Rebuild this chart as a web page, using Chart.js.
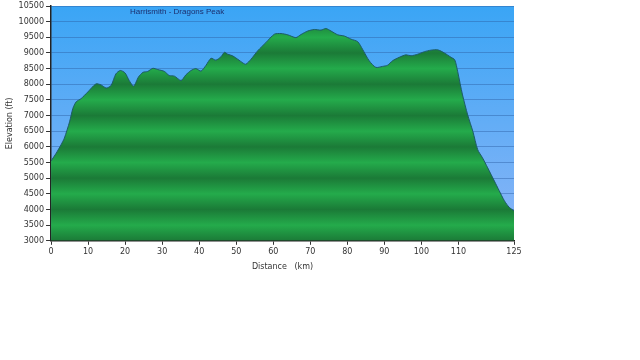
<!DOCTYPE html>
<html>
<head>
<meta charset="utf-8">
<script src="https://cdn.jsdelivr.net/npm/chart.js@4.4.1/dist/chart.umd.min.js"></script>
<style>
  html, body { margin: 0; padding: 0; background: #fff; }
  #wrap { width: 640px; height: 360px; }
</style>
</head>
<body>
<div id="wrap"><canvas id="perfil"></canvas></div>
<script>
const distancias = [0, 1.4, 2.7, 3.6, 5, 5.9, 6.8, 8.1, 9.9, 12.1, 13.5, 14.9, 16.2, 17.5, 18.7, 20, 21.1, 22.3, 23.6, 24.8,
    26.1, 27.5, 28.8, 30.6, 31.9, 33.3, 35.1, 36.4, 37.8, 39.1, 40.5, 41.8, 43.2, 44.5, 45.9, 46.8, 47.7, 49, 50.4, 51.8,
    52.6, 54, 55.8, 58, 60.3, 62.1, 63.9, 66.1, 67.5, 69.3, 71.1, 72.9, 74.2, 75.6, 77.4, 79.2, 81, 82.8, 84.1, 85.9,
    87.7, 89.5, 90.9, 92.2, 94, 95.8, 97.2, 99, 100.8, 102.6, 104.4, 106.2, 108, 109, 109.8, 111.1, 112.5, 113.9, 115.2,
    116.5, 117.9, 119.7, 121, 122.4, 123.7, 125];
const elevacoes = [5550, 5800, 6070, 6280, 6800, 7230, 7440, 7540, 7750, 8010, 7980, 7880, 7960, 8330, 8440, 8360, 8120, 7940, 8230, 8380,
    8410, 8510, 8470, 8410, 8280, 8260, 8120, 8300, 8440, 8500, 8420, 8600, 8830, 8770, 8880, 9020, 8960, 8910, 8800, 8680,
    8640, 8800, 9070, 9330, 9600, 9620, 9580, 9490, 9590, 9700, 9750, 9730, 9780, 9700, 9580, 9540, 9440, 9360, 9120, 8750,
    8540, 8570, 8610, 8750, 8860, 8940, 8910, 8960, 9040, 9090, 9100, 9000, 8860, 8780, 8400, 7660, 7020, 6490, 5910,
    5650, 5330, 4910, 4600, 4280, 4070, 3960];
const ticksDistancia = [0, 10, 20, 30, 40, 50, 60, 70, 80, 90, 100, 110, 125];
const tituloRota = "Harrismith - Dragons Peak";

const pontos = distancias.map((d, i) => ({ x: d, y: elevacoes[i] }));

// faixas verdes: escuro em cada 1000 ft, claro em cada 500
function gradienteVerde(chart) {
    const area = chart.chartArea;
    if (!area) return "#22a84a";
    const y = chart.scales.y;
    const g = chart.ctx.createLinearGradient(0, area.top, 0, area.bottom);
    for (let v = 3000; v <= 10500; v += 500) {
        let pos = (y.getPixelForValue(v) - area.top) / (area.bottom - area.top);
        pos = Math.min(1, Math.max(0, pos));
        g.addColorStop(pos, v % 1000 === 0 ? "#1b7a37" : "#24ab4b");
    }
    return g;
}

const fundoAzul = {
    id: "fundoAzul",
    beforeDraw(chart) {
        const { ctx, chartArea: a } = chart;
        const g = ctx.createLinearGradient(0, a.top, 0, a.bottom);
        g.addColorStop(0, "#3aa5f5");
        g.addColorStop(1, "#8cb5f7");
        ctx.save();
        ctx.fillStyle = g;
        ctx.fillRect(a.left, a.top, a.right - a.left, a.bottom - a.top);
        ctx.restore();
    },
    afterDraw(chart) {
        const { ctx } = chart;
        ctx.save();
        ctx.font = "8px 'Liberation Sans'";
        ctx.fillStyle = "#1c2f6e";
        ctx.textBaseline = "middle";
        ctx.fillText(tituloRota, 130, 12);
        ctx.restore();
    }
};

new Chart(document.getElementById("perfil"), {
    type: "line",
    data: {
        datasets: [{
            data: pontos,
            borderColor: "#1d5a68",
            borderWidth: 1,
            backgroundColor: ctx => gradienteVerde(ctx.chart),
            fill: "start",
            pointRadius: 0,
            tension: 0.25
        }]
    },
    options: {
        responsive: true,
        maintainAspectRatio: false,
        animation: false,
        layout: { padding: { top: 0, right: 126, bottom: 84, left: 3 } },
        plugins: { legend: { display: false }, tooltip: { enabled: false } },
        scales: {
            x: {
                type: "linear",
                min: 0,
                max: 125,
                afterBuildTicks: axis => { axis.ticks = ticksDistancia.map(v => ({ value: v })); },
                ticks: { font: { family: "DejaVu Sans", size: 8 }, color: "#333", maxRotation: 0, autoSkip: false, padding: 2,
                    callback: v => String(v) },
                grid: { drawOnChartArea: false, color: "#333", tickLength: 4 },
                border: { color: "#222", width: 1.5 },
                title: { display: true, text: "Distance   (km)", font: { family: "DejaVu Sans", size: 8 }, color: "#333", padding: { top: 4 } }
            },
            y: {
                min: 3000,
                max: 10500,
                ticks: { stepSize: 500, font: { family: "DejaVu Sans", size: 8, lineHeight: 1 }, color: "#333", padding: 2,
                    callback: v => String(v) },
                grid: { color: "rgba(45,95,165,0.45)", tickColor: "#333", tickLength: 5 },
                border: { color: "#222", width: 1.5 },
                title: { display: true, text: "Elevation (ft)", font: { family: "DejaVu Sans", size: 8 }, color: "#333", padding: 2 }
            }
        }
    },
    plugins: [fundoAzul]
});
</script>
</body>
</html>
